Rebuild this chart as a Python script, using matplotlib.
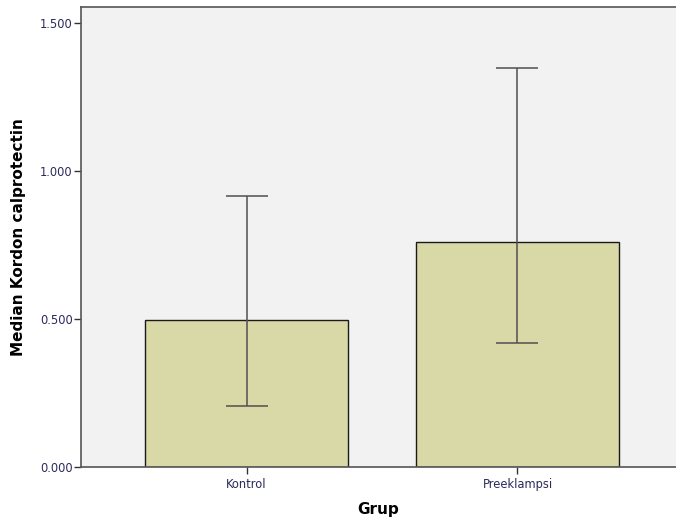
import matplotlib
matplotlib.use("Agg")
import matplotlib.pyplot as plt
from matplotlib.ticker import FormatStrFormatter

# Data
groups = ['Kontrol', 'Preeklampsi']
medians = [0.497, 0.760]
err_low = [0.207, 0.418]
err_high = [0.916, 1.347]
yticks = [0.0, 0.5, 1.0, 1.5]

fig = plt.figure(figsize=(6.76, 5.22), dpi=100)
ax = fig.add_axes([0.1198, 0.1054, 0.8802, 0.8812])
ax.set_facecolor('#f2f2f2')

x = list(range(len(groups)))
ax.bar(x, medians, width=0.75, color='#d9d8a7', edgecolor='#1a1a1a', linewidth=1.0, zorder=2)

# error bars as low/high interval around the median
lower = [m - lo for m, lo in zip(medians, err_low)]
upper = [hi - m for m, hi in zip(medians, err_high)]
ax.errorbar(x, medians, yerr=[lower, upper], fmt='none', ecolor='#505050',
            elinewidth=1.1, capsize=14.8, capthick=1.1, zorder=3)

ax.set_xlim(-0.611, 1.585)
ax.set_ylim(0, 1.554)
ax.set_xticks(x)
ax.set_xticklabels(groups)
ax.set_yticks(yticks)
ax.yaxis.set_major_formatter(FormatStrFormatter('%.3f'))

ax.tick_params(axis='both', direction='out', length=5, width=1, color='#333333',
               labelsize=8.3, labelcolor='#2b2b5c')
ax.tick_params(axis='y', pad=1)
ax.tick_params(axis='x', pad=3)

for side in ['left', 'top', 'bottom']:
    ax.spines[side].set_color('#555555')
    ax.spines[side].set_linewidth(1.2)
ax.spines['right'].set_visible(False)

ax.set_xlabel('Grup', fontsize=11, fontweight='bold', labelpad=8)
ax.set_ylabel('Median Kordon calprotectin', fontsize=11, fontweight='bold', labelpad=10)

fig.savefig('out.png', dpi=100, facecolor='white')
